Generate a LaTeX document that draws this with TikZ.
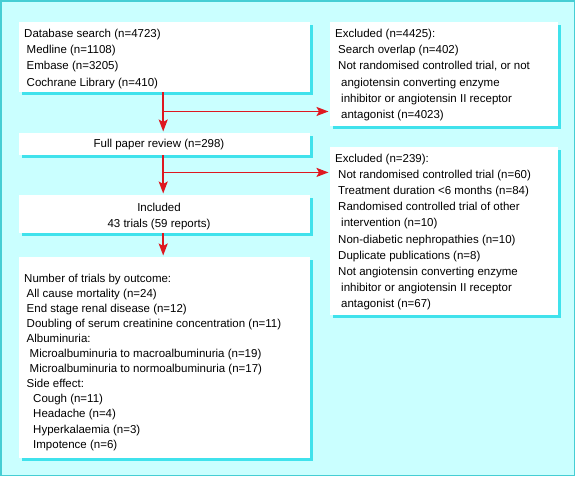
\documentclass[tikz,border=0pt]{standalone}
\usepackage{fontspec}
\setmainfont{Liberation Sans}
\usetikzlibrary{arrows.meta,shadows,calc}
\definecolor{bgc}{RGB}{202,255,255}
\definecolor{shc}{RGB}{64,226,236}
\definecolor{bdc}{RGB}{70,206,212}
\definecolor{arc}{RGB}{222,24,32}
\begin{document}
\begin{tikzpicture}[x=1pt,y=-1pt,
  box/.style={draw=none,fill=white,anchor=north west,inner sep=0,
    drop shadow={shadow xshift=2.8pt,shadow yshift=-2.8pt,fill=shc,opacity=1}},
  txt/.style={anchor=north west,inner sep=0,align=left,font={\fontsize{11.5}{16.2}\selectfont}},
  ctxt/.style={inner sep=0,align=center,font={\fontsize{11.5}{16.2}\selectfont}},
  arr/.style={draw=arc,line width=1.6pt,-{Stealth[length=12pt,width=9pt,inset=2.5pt]},shorten >=1.5pt}
]
\useasboundingbox (0,0) rectangle (576,478);
\draw[draw=bdc,fill=bgc,line width=1.2pt] (1,1) rectangle (574.5,475.5);

\node[box,minimum width=291pt,minimum height=70pt] (db) at (19,22) {};
\node[box,minimum width=228pt,minimum height=104pt] (ex1) at (330,22) {};
\node[box,minimum width=291pt,minimum height=22pt] (full) at (19,133) {};
\node[box,minimum width=228pt,minimum height=168pt] (ex2) at (330,147) {};
\node[box,minimum width=291pt,minimum height=38pt] (inc) at (19,195) {};
\node[box,minimum width=291pt,minimum height=201pt] (num) at (19,257) {};

\node[txt] (dbt) at (24,29) {Database search (n=4723)\\
\hspace*{2.5pt}Medline (n=1108)\\
\hspace*{2.5pt}Embase (n=3205)\\
\hspace*{2.5pt}Cochrane Library (n=410)};

\node[txt] (ex1t) at (335,29) {Excluded (n=4425):\\
\hspace*{3pt}Search overlap (n=402)\\
\hspace*{3pt}Not randomised controlled trial, or not\\
\hspace*{6pt}angiotensin converting enzyme\\
\hspace*{6pt}inhibitor or angiotensin II receptor\\
\hspace*{6pt}antagonist (n=4023)};

\node[ctxt,anchor=base] (fullt) at (159,148) {Full paper review (n=298)};

\node[txt] (ex2t) at (335,153.5) {Excluded (n=239):\\
\hspace*{3pt}Not randomised controlled trial (n=60)\\
\hspace*{3pt}Treatment duration <6 months (n=84)\\
\hspace*{3pt}Randomised controlled trial of other\\
\hspace*{6pt}intervention (n=10)\\
\hspace*{3pt}Non-diabetic nephropathies (n=10)\\
\hspace*{3pt}Duplicate publications (n=8)\\
\hspace*{3pt}Not angiotensin converting enzyme\\
\hspace*{6pt}inhibitor or angiotensin II receptor\\
\hspace*{6pt}antagonist (n=67)};

\node[ctxt,anchor=north] (inct) at (159,202.5) {Included\\43 trials (59 reports)};

\node[txt,font={\fontsize{11.5}{15.1}\selectfont}] (numt) at (24,273.5) {Number of trials by outcome:\\
\hspace*{2.5pt}All cause mortality (n=24)\\
\hspace*{2.5pt}End stage renal disease (n=12)\\
\hspace*{2.5pt}Doubling of serum creatinine concentration (n=11)\\
\hspace*{2.5pt}Albuminuria:\\
\hspace*{5.5pt}Microalbuminuria to macroalbuminuria (n=19)\\
\hspace*{5.5pt}Microalbuminuria to normoalbuminuria (n=17)\\
\hspace*{2.5pt}Side effect:\\
\hspace*{9pt}Cough (n=11)\\
\hspace*{9pt}Headache (n=4)\\
\hspace*{9pt}Hyperkalaemia (n=3)\\
\hspace*{9pt}Impotence (n=6)};

\coordinate (j1) at ($(db.south)!0.47!(full.north)$);
\coordinate (j2) at ($(full.south)!0.43!(inc.north)$);
\draw[arr] ([xshift=-1.5pt]db.south) -- ([xshift=-1.5pt]full.north);
\draw[arr] ([xshift=-1.5pt]j1) -- (j1 -| ex1.west);
\draw[arr] ([xshift=-1.5pt]full.south) -- ([xshift=-1.5pt]inc.north);
\draw[arr] ([xshift=-1.5pt]j2) -- (j2 -| ex2.west);
\draw[arr] ([xshift=-1.5pt]inc.south) -- ([xshift=-1.5pt]num.north);
\end{tikzpicture}
\end{document}
